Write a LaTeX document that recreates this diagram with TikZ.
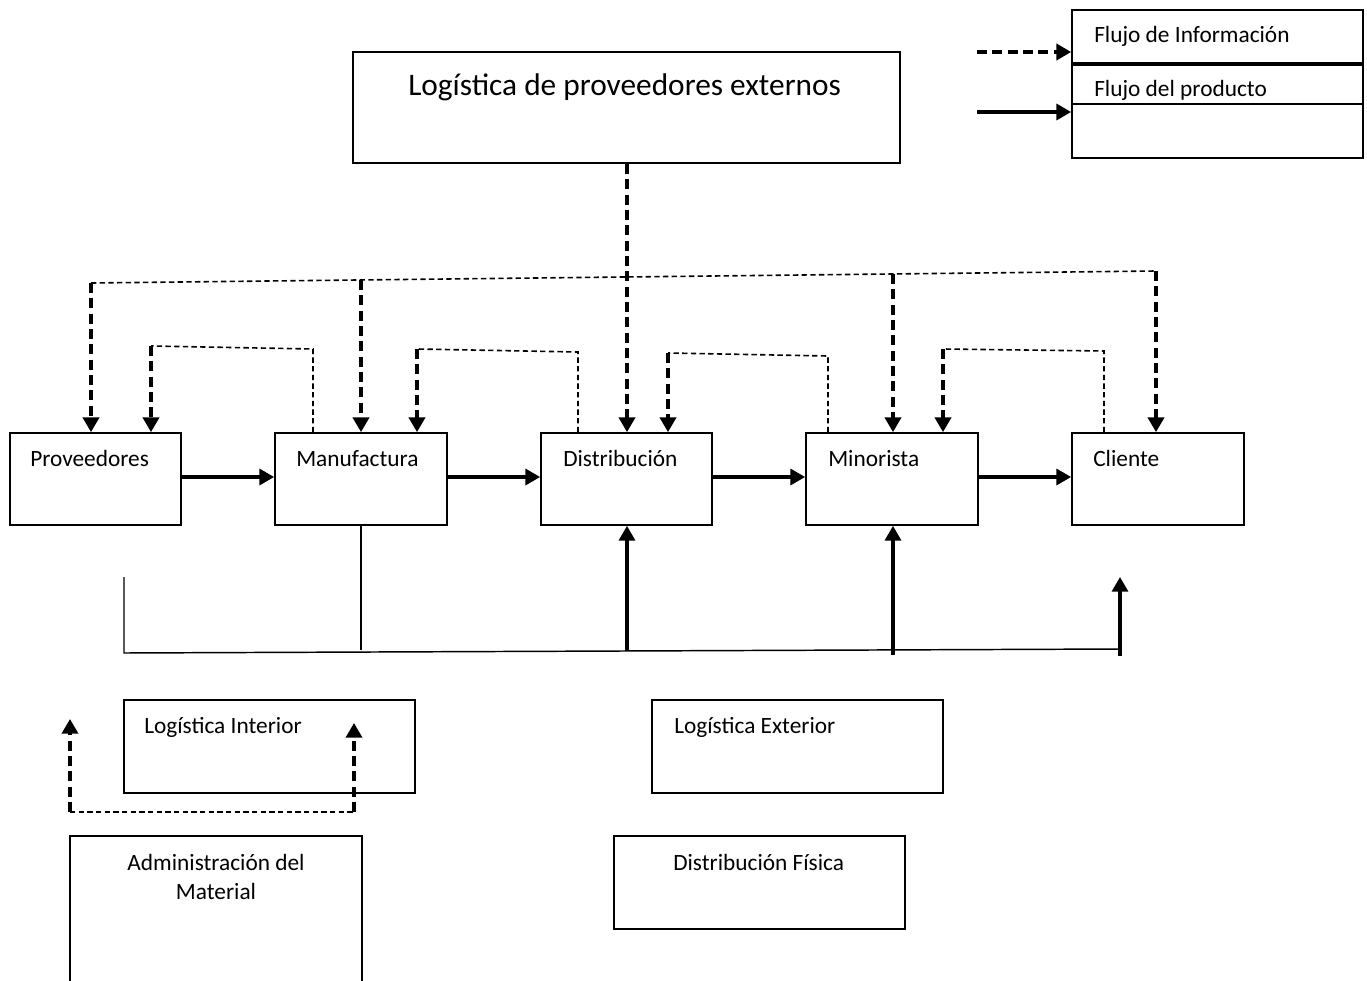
\documentclass[tikz,border=0pt]{standalone}
\usepackage{fontspec}
\setmainfont{Carlito}
\usetikzlibrary{arrows.meta,fit}
\begin{document}
\begin{tikzpicture}[x=0.75pt,y=-0.75pt,
  box/.style={draw,line width=1.3pt,inner sep=0pt},
  txt/.style={inner sep=0pt,anchor=base west,font=\fontsize{17.5}{21}\selectfont},
  tip/.style={-{Triangle[length=11pt,width=12pt]}},
  flow/.style={tip,line width=2.3pt},
  info/.style={tip,line width=2.6pt,dash pattern=on 7.5pt off 4pt},
  thindash/.style={line width=1.2pt,dash pattern=on 4pt off 2.5pt},
  thin/.style={line width=1.1pt}]
\useasboundingbox (0,0) rectangle (1367,981);
% top box
\node[box,fit={(353,52) (900,163)}] (ext) {};
\node[txt,font=\fontsize{23.5}{28}\selectfont] (extt) at (408,95) {Logística de proveedores externos};
% legend
\node[box,fit={(1072,10) (1363,158)}] (leg) {};
\coordinate (lg1) at (1072,63); \coordinate (lg2) at (1072,65); \coordinate (lg3) at (1072,104);
\draw[line width=1.2pt] (lg1) -- (lg1 -| leg.east);
\draw[line width=1.2pt] (lg2) -- (lg2 -| leg.east);
\draw[line width=1.2pt] (lg3) -- (lg3 -| leg.east);
\node[txt] (legi) at (1094,43) {Flujo de Información};
\node[txt] (legp) at (1094,97) {Flujo del producto};
\coordinate (la) at (977,52); \coordinate (lb) at (977,112);
\draw[info] (la) -- (la -| leg.west);
\draw[flow] (lb) -- (lb -| leg.west);
% row boxes
\node[box,fit={(10,433) (181,525)}] (prov) {};
\node[box,fit={(275,433) (447,525)}] (manu) {};
\node[box,fit={(541,433) (712,525)}] (dist) {};
\node[box,fit={(806,433) (978,525)}] (mino) {};
\node[box,fit={(1072,433) (1244,525)}] (clie) {};
\node[txt] (provt) at (30,466) {Proveedores};
\node[txt] (manut) at (296,466) {Manufactura};
\node[txt] (distt) at (563,466) {Distribución};
\node[txt] (minot) at (828,466) {Minorista};
\node[txt] (cliet) at (1093,466) {Cliente};
% product flow
\draw[flow] (prov.east |- 0,477) -- (manu.west |- 0,477);
\draw[flow] (manu.east |- 0,477) -- (dist.west |- 0,477);
\draw[flow] (dist.east |- 0,477) -- (mino.west |- 0,477);
\draw[flow] (mino.east |- 0,477) -- (clie.west |- 0,477);
% big information line
\coordinate (t1) at (91,283);
\coordinate (t2) at (361,280);
\coordinate (t3) at (627,277);
\coordinate (t4) at (893,274);
\coordinate (t5) at (1156,271);
\draw[thindash] (t1) -- (t5);
\draw[info] (t1) -- (t1 |- prov.north);
\draw[info] (t2) -- (t2 |- manu.north);
\draw[info] (t4) -- (t4 |- mino.north);
\draw[info] (t5) -- (t5 |- clie.north);
\draw[info] (t3 |- ext.south) -- (t3 |- dist.north);
% small loops
\coordinate (a1) at (313,433); \coordinate (b1) at (313,349); \coordinate (c1) at (151,346);
\draw[thindash] (a1 |- manu.north) -- (b1) -- (c1);
\draw[info] (c1) -- (c1 |- prov.north);
\coordinate (a2) at (578,433); \coordinate (b2) at (578,352); \coordinate (c2) at (417,349);
\draw[thindash] (a2 |- dist.north) -- (b2) -- (c2);
\draw[info] (c2) -- (c2 |- manu.north);
\coordinate (a3) at (828,433); \coordinate (b3) at (828,356); \coordinate (c3) at (668,353);
\draw[thindash] (a3 |- mino.north) -- (b3) -- (c3);
\draw[info] (c3) -- (c3 |- dist.north);
\coordinate (a4) at (1104,433); \coordinate (b4) at (1104,351); \coordinate (c4) at (943,349);
\draw[thindash] (a4 |- clie.north) -- (b4) -- (c4);
\draw[info] (c4) -- (c4 |- mino.north);
% bottom lines
\coordinate (m1) at (361,650);
\draw[thin] (m1 |- manu.south) -- (m1);
\coordinate (h0) at (124,577); \coordinate (h1) at (124,653); \coordinate (h2) at (1120,649);
\draw[thin] (h0) -- (h1) -- (h2);
\coordinate (u1) at (627,651); \coordinate (u2) at (893,655); \coordinate (u3) at (1120,656);
\coordinate (u3e) at (1120,577);
\draw[flow] (u1) -- (u1 |- dist.south);
\draw[flow] (u2) -- (u2 |- mino.south);
\draw[flow] (u3) -- (u3e);
% lower boxes
\node[box,fit={(124,700) (415,793)}] (lint) {};
\node[txt] (lintt) at (144,733) {Logística Interior};
\node[box,fit={(652,700) (943,793)}] (lext) {};
\node[txt] (lextt) at (674,733) {Logística Exterior};
\node[box,fit={(614,836) (905,929)}] (dfis) {};
\node[txt] (dfist) at (673,870) {Distribución Física};
\node[box,fit={(70,836) (362,1010)}] (adm) {};
\node[inner sep=0pt,anchor=north,align=center,font=\fontsize{17.5}{21.8}\selectfont] (admt) at (216,854) {Administración del\\Material};
% lower dashed loop
\coordinate (d1) at (70,812); \coordinate (d2) at (354,812);
\coordinate (e1) at (70,719); \coordinate (e2) at (354,723);
\draw[thindash] (d1) -- (d2);
\draw[info] (d1) -- (e1);
\draw[info] (d2) -- (e2);
\end{tikzpicture}
\end{document}
